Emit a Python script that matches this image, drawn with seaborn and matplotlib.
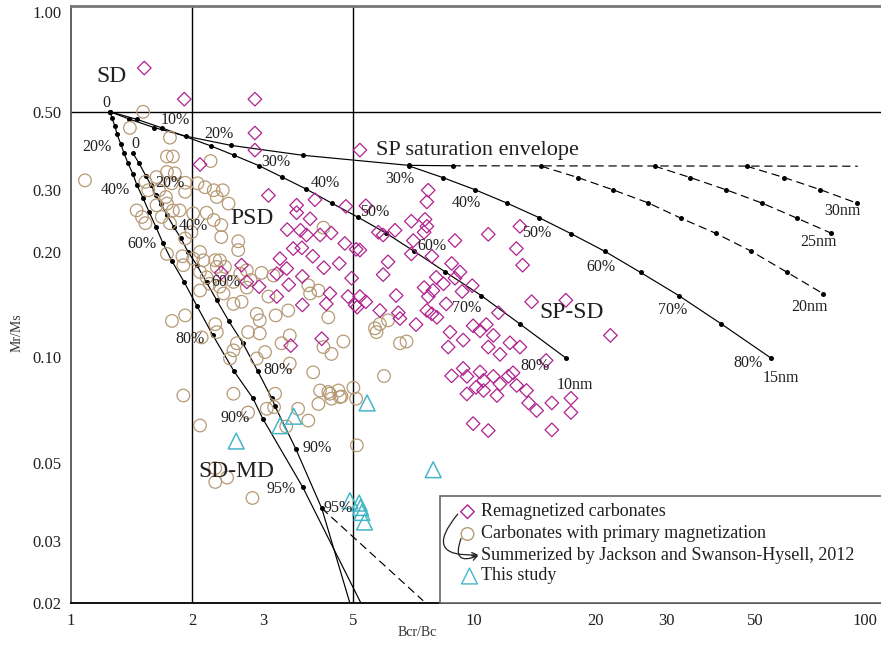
import numpy as np
import pandas as pd
import matplotlib
matplotlib.use("Agg")
import matplotlib.pyplot as plt
import seaborn as sns
from matplotlib.patches import FancyArrowPatch, Rectangle

# ---------------- data ----------------
# Remagnetized carbonates (Bcr/Bc, Mr/Ms)
rem_bcr = [1.52, 1.91, 2.86, 2.86, 2.86, 2.09, 3.09, 5.21, 3.63, 4.03, 4.81, 3.63, 3.92, 3.44,
           3.71, 3.84, 4.15, 4.42, 4.78, 3.56, 3.74, 3.98, 4.63, 5.10, 3.30, 2.65, 3.43, 3.24,
           3.75, 4.24, 4.97, 2.36, 2.73, 2.93, 3.24, 3.47, 3.75, 4.30, 4.87, 5.07, 4.19, 3.51,
           5.39, 5.21, 4.39, 5.21, 5.13, 5.39, 5.84, 6.41, 6.49, 6.55, 5.95, 6.12, 5.79, 5.95,
           6.37, 6.99, 7.56, 7.70, 7.64, 7.64, 7.52, 7.07, 6.99, 7.86, 8.97, 8.80, 9.23, 7.18,
           10.85, 13.0, 12.74, 13.2, 9.9, 7.52, 8.06, 8.4, 7.91, 7.7, 8.97, 9.34, 8.53, 7.64,
           7.86, 8.09, 8.72, 9.4, 8.63, 9.95, 10.35, 10.73, 11.17, 11.5, 10.85, 11.6, 12.28,
           13.0, 13.9, 16.9, 21.8, 15.1, 9.4, 8.8, 9.6, 10.35, 10.56, 11.17, 11.6, 12.17, 12.5,
           12.76, 10.12, 9.6, 10.56, 11.4, 13.5, 13.66, 14.3, 15.6, 17.4, 17.4, 15.6, 9.95, 10.85]
rem_mr = [0.666, 0.543, 0.543, 0.435, 0.389, 0.354, 0.289, 0.389, 0.271, 0.281, 0.269, 0.258,
          0.248, 0.231, 0.230, 0.223, 0.223, 0.226, 0.211, 0.204, 0.205, 0.194, 0.185, 0.203,
          0.191, 0.183, 0.179, 0.173, 0.170, 0.180, 0.168, 0.174, 0.164, 0.159, 0.149, 0.161,
          0.141, 0.142, 0.149, 0.141, 0.113, 0.108, 0.270, 0.202, 0.152, 0.149, 0.139, 0.144,
          0.136, 0.150, 0.134, 0.129, 0.172, 0.187, 0.227, 0.223, 0.230, 0.244, 0.247, 0.299,
          0.277, 0.236, 0.227, 0.215, 0.197, 0.194, 0.215, 0.185, 0.175, 0.124, 0.224, 0.236,
          0.204, 0.183, 0.160, 0.158, 0.169, 0.162, 0.155, 0.149, 0.168, 0.154, 0.142, 0.136,
          0.133, 0.130, 0.118, 0.112, 0.107, 0.123, 0.119, 0.124, 0.1155, 0.134, 0.107, 0.102,
          0.110, 0.107, 0.144, 0.1454, 0.1155, 0.098, 0.093, 0.0886, 0.0883, 0.0909, 0.086,
          0.0883, 0.0840, 0.0883, 0.0904, 0.0832, 0.0822, 0.0787, 0.0805, 0.0779, 0.0805,
          0.0742, 0.0706, 0.0742, 0.0765, 0.0697, 0.0622, 0.0648, 0.0619]

# Carbonates with primary magnetization
prim_bcr = [1.51, 1.40, 1.76, 2.22, 1.73, 1.79, 1.083, 1.73, 1.81, 1.53, 1.63, 1.92, 2.06, 2.15,
            2.26, 2.38, 1.455, 1.50, 1.53, 1.555, 1.655, 1.72, 1.78, 1.92, 2.46, 2.30, 2.17,
            2.26, 2.36, 2.36, 2.01, 1.99, 1.92, 1.76, 1.79, 1.86, 1.63, 1.73, 1.68, 2.60, 2.60,
            2.09, 2.28, 2.34, 2.41, 2.30, 2.13, 2.01, 1.89, 1.90, 2.09, 2.17, 2.09, 2.21, 2.34,
            2.53, 2.63, 2.73, 2.79, 2.97, 3.09, 3.18, 2.39, 2.53, 2.65, 2.73, 2.89, 2.94, 3.22,
            3.88, 3.92, 4.11, 4.23, 3.46, 4.35, 4.74, 1.92, 1.78, 1.73, 2.28, 2.30, 2.75, 2.58,
            2.53, 2.48, 2.94, 3.03, 2.89, 3.49, 3.33, 3.49, 3.99, 4.43, 2.11, 1.90, 2.53, 4.15,
            4.61, 5.02, 4.23, 5.68, 5.84, 6.12, 5.73, 6.55, 6.8, 5.98, 4.35, 4.65, 4.43, 5.10,
            3.66, 3.88, 5.12, 3.21, 2.09, 2.75, 3.06, 3.19, 3.42, 4.11, 4.39, 4.69, 2.28, 2.44,
            2.28, 2.82]
prim_mr = [0.500, 0.450, 0.422, 0.362, 0.373, 0.373, 0.319, 0.337, 0.334, 0.316, 0.326, 0.314,
           0.313, 0.305, 0.299, 0.299, 0.262, 0.251, 0.241, 0.299, 0.299, 0.286, 0.313, 0.296,
           0.274, 0.286, 0.258, 0.246, 0.238, 0.220, 0.257, 0.227, 0.218, 0.241, 0.262, 0.262,
           0.271, 0.274, 0.251, 0.214, 0.202, 0.1995, 0.189, 0.189, 0.181, 0.181, 0.189, 0.191,
           0.194, 0.183, 0.175, 0.169, 0.155, 0.162, 0.159, 0.164, 0.173, 0.177, 0.166, 0.174,
           0.149, 0.171, 0.152, 0.142, 0.144, 0.158, 0.133, 0.1275, 0.1317, 0.1604, 0.152, 0.155,
           0.234, 0.136, 0.130, 0.111, 0.1317, 0.127, 0.197, 0.1243, 0.118, 0.118, 0.1097,
           0.1047, 0.0993, 0.117, 0.1035, 0.0993, 0.1155, 0.1097, 0.096, 0.0907, 0.1023, 0.114,
           0.0779, 0.0788, 0.0805, 0.0805, 0.082, 0.107, 0.121, 0.1245, 0.1275, 0.118, 0.1097,
           0.111, 0.0885, 0.0797, 0.0771, 0.0763, 0.0763, 0.0714, 0.0661, 0.0562, 0.0788, 0.064,
           0.0697, 0.0714, 0.0722, 0.0636, 0.0737, 0.0788, 0.0774, 0.0484, 0.0455, 0.0442, 0.0398]

# This study
study_bcr = [2.57, 3.30, 3.57, 5.43, 7.92, 4.92, 5.19, 5.23, 5.27, 5.35]
study_mr = [0.0578, 0.0639, 0.0680, 0.0742, 0.0479, 0.0391, 0.0385, 0.0374, 0.0362, 0.0340]

# SD-MD mixing curves (Dunlop, 2002)
sdmd1_x = [1.25, 1.264, 1.286, 1.30, 1.33, 1.354, 1.385, 1.425, 1.458, 1.509, 1.561, 1.625,
           1.692, 1.78, 1.908, 2.054, 2.25, 2.54, 2.83, 2.99, 3.76, 5.24]
sdmd1_y = [0.50, 0.479, 0.455, 0.432, 0.404, 0.381, 0.357, 0.332, 0.309, 0.284, 0.260, 0.235,
           0.211, 0.188, 0.164, 0.140, 0.1155, 0.0912, 0.0764, 0.0670, 0.0427, 0.0200]
sdmd2_x = [1.425, 1.475, 1.535, 1.58, 1.625, 1.673, 1.73, 1.80, 1.875, 1.95, 2.054, 2.17, 2.30,
           2.465, 2.67, 2.91, 3.15, 3.21, 3.61, 4.19, 4.92]
sdmd2_y = [0.381, 0.357, 0.328, 0.309, 0.289, 0.273, 0.254, 0.235, 0.218, 0.200, 0.1829, 0.1634,
           0.1454, 0.1267, 0.1097, 0.0912, 0.0764, 0.0725, 0.0550, 0.0372, 0.0200]
md_tail_x = [4.19, 7.48]
md_tail_y = [0.0372, 0.0203]

# SP saturation envelope and SP-SD mixing curves
env_x = [1.25, 1.393, 1.606, 1.93, 2.50, 3.76, 6.88, 8.85]
env_y = [0.50, 0.477, 0.451, 0.426, 0.401, 0.376, 0.352, 0.351]
env_dash_x = [8.85, 89.6]
env_dash_y = [0.351, 0.350]
sp10_x = [1.25, 1.455, 1.68, 2.22, 2.54, 2.93, 3.34, 3.84, 4.43, 5.14, 6.04, 7.10, 8.49, 10.42,
          13.0, 16.9]
sp10_y = [0.50, 0.476, 0.450, 0.400, 0.376, 0.351, 0.326, 0.301, 0.275, 0.251, 0.226, 0.2005,
          0.175, 0.150, 0.1245, 0.0996]
sp15_x = [6.88, 8.36, 10.06, 12.06, 14.49, 17.4, 21.1, 25.9, 32.2, 41.1, 54.6]
sp15_y = [0.351, 0.325, 0.300, 0.275, 0.250, 0.225, 0.2005, 0.1745, 0.150, 0.1245, 0.0995]
sp20_x = [14.68, 18.1, 22.1, 27.1, 32.6, 39.8, 48.8, 59.9, 73.5]
sp20_y = [0.350, 0.325, 0.300, 0.275, 0.249, 0.2255, 0.2004, 0.1745, 0.1518]
sp25_x = [28.1, 34.4, 42.2, 51.8, 63.3, 77.1]
sp25_y = [0.350, 0.325, 0.300, 0.275, 0.249, 0.2255]
sp30_x = [47.5, 58.8, 72.4, 89.0]
sp30_y = [0.350, 0.325, 0.300, 0.275]

x_ticks = [1, 2, 3, 5, 10, 20, 30, 50, 100]
x_ticklabels = ["1", "2", "3", "5", "10", "20", "30", "50", "100"]
y_ticks = [0.02, 0.03, 0.05, 0.10, 0.20, 0.30, 0.50, 1.00]
y_ticklabels = ["0.02", "0.03", "0.05", "0.10", "0.20", "0.30", "0.50", "1.00"]

legend_labels = ["Remagnetized carbonates", "Carbonates with primary magnetization",
                 "Summerized by Jackson and Swanson-Hysell, 2012", "This study"]

# ---------------- style ----------------
sns.set_theme(style="white")
plt.rcParams["font.family"] = ["Liberation Serif", "DejaVu Serif"]

TXT = "#231f20"
C_REM = "#b0228f"
C_PRIM = "#b69a76"
C_STUDY = "#45b6c8"
S_REM, S_PRIM, S_STUDY = 48, 82, 130

W, H = 881, 648
fig = plt.figure(figsize=(W / 100, H / 100), dpi=100)
L, R, T, B = 71, 881, 6, 603
ax = fig.add_axes([L / W, 1 - B / H, (R - L) / W, (B - T) / H])
ax.set_xscale("log")
ax.set_yscale("log")
ax.set_xlim(1, 10 ** ((R - L) / 403.0))
ax.set_ylim(0.02, 1.0)


def P(px, py):
    """pixel position -> axes fraction (for annotations only)"""
    return ((px - L) / (R - L), (B - py) / (B - T))


# reference lines
ax.axhline(0.5, color="black", lw=1.0, zorder=1)
for xv in (2, 5):
    ax.axvline(xv, color="black", lw=1.0, zorder=1)


def curve(xs, ys, ls="-", dots=True, skip_last=False):
    n = len(xs)
    kw = dict(x=xs, y=ys, sort=False, estimator=None, color="black", lw=0.85,
              linestyle=ls, ax=ax, zorder=3, legend=False)
    if dots:
        kw.update(marker="o", markersize=3.6, mec="black", mfc="black", mew=0)
        if skip_last:
            kw["markevery"] = list(range(n - 1))
    sns.lineplot(**kw)


DASH = (0, (7, 4))
curve(sdmd1_x, sdmd1_y, skip_last=True)
curve(sdmd2_x, sdmd2_y, skip_last=True)
curve(md_tail_x, md_tail_y, ls=DASH, dots=False)
curve(env_x, env_y)
curve(env_dash_x, env_dash_y, ls=DASH, dots=False)
curve(sp10_x, sp10_y)
curve(sp15_x, sp15_y)
curve(sp20_x, sp20_y, ls=DASH)
curve(sp25_x, sp25_y, ls=DASH)
curve(sp30_x, sp30_y, ls=DASH)

# scatter
prim = pd.DataFrame({"bcr": prim_bcr, "mr": prim_mr})
rem = pd.DataFrame({"bcr": rem_bcr, "mr": rem_mr})
study = pd.DataFrame({"bcr": study_bcr, "mr": study_mr})
sns.scatterplot(data=prim, x="bcr", y="mr", marker="o", s=S_PRIM, facecolors="none",
                edgecolor=C_PRIM, linewidth=0.9, ax=ax, zorder=4, legend=False)
sns.scatterplot(data=rem, x="bcr", y="mr", marker="D", s=S_REM, facecolors="none",
                edgecolor=C_REM, linewidth=0.9, ax=ax, zorder=5, legend=False)
sns.scatterplot(data=study, x="bcr", y="mr", marker="^", s=S_STUDY, facecolors="none",
                edgecolor=C_STUDY, linewidth=1.1, ax=ax, zorder=6, legend=False)

# axes styling
ax.set_xticks(x_ticks)
ax.set_xticklabels(x_ticklabels)
ax.set_yticks(y_ticks)
ax.set_yticklabels(y_ticklabels)
ax.minorticks_off()
ax.tick_params(axis="both", direction="in", length=7, width=1.0, colors="#333333",
               labelsize=12, labelcolor=TXT)
ax.tick_params(axis="y", pad=7)
ax.tick_params(axis="x", pad=7)
ax.get_xticklabels()[-1].set_horizontalalignment("right")
ax.get_yticklabels()[-1].set_verticalalignment("top")
ax.set_xlabel("")
ax.set_ylabel("")
ax.spines["right"].set_visible(False)
ax.spines["top"].set_color("#777777")
ax.spines["top"].set_linewidth(2.0)
ax.spines["left"].set_color("#555555")
ax.spines["left"].set_linewidth(1.3)
ax.spines["bottom"].set_color("black")
ax.spines["bottom"].set_linewidth(1.3)

fig.text(17 / W, 1 - 333 / H, "Mr/Ms", rotation=90, ha="center", va="center",
         fontsize=10, color="#333333")
fig.text(417 / W, 1 - 633 / H, "Bcr/Bc", ha="center", va="center",
         fontsize=10, color="#333333")


def lab(px, py, s, size=11, ha="center"):
    ax.text(*P(px, py), s, transform=ax.transAxes, ha=ha, va="center",
            fontsize=size, color=TXT, zorder=7)


lab(111.7, 76, "SD", 17)
lab(251.7, 218.3, "PSD", 17)
lab(571.7, 312.7, "SP-SD", 17)
lab(236, 471.7, "SD-MD", 17)
lab(376, 150, "SP saturation envelope", 16, ha="left")

pct = [(106.7, 102.7, "0"), (135.7, 144, "0"),
       (97.3, 147.3, "20%"), (115, 190, "40%"), (141.7, 244.3, "60%"), (190, 339, "80%"),
       (235, 418.3, "90%"), (280.7, 489.3, "95%"),
       (170, 183.3, "20%"), (193.3, 226, "40%"), (225.7, 281.7, "60%"), (278.3, 370, "80%"),
       (316.7, 448.3, "90%"), (338.3, 508.3, "95%"),
       (175, 120, "10%"), (219.3, 134, "20%"), (276, 161.7, "30%"), (325, 183.3, "40%"),
       (375, 211.7, "50%"), (431.7, 246, "60%"), (466.7, 308.3, "70%"), (535, 366, "80%"),
       (575, 385, "10nm"),
       (400, 179.3, "30%"), (466, 203.3, "40%"), (536.7, 233.3, "50%"), (600.7, 267.3, "60%"),
       (672.7, 310, "70%"), (748.3, 362.7, "80%"), (781, 378, "15nm"),
       (810, 306.7, "20nm"), (818.3, 242.3, "25nm"), (842.3, 211, "30nm")]
for px, py, s in pct:
    lab(px, py, s, 11.5)

# legend (custom box)
box_x, box_y = P(439.5, 496)
ax.add_patch(Rectangle((box_x, 0), 1.2 - box_x, box_y, transform=ax.transAxes,
                       facecolor="white", edgecolor="#666666", lw=1.2, zorder=8,
                       clip_on=False))
leg_rows = [(511.7, "D", C_REM, S_REM, legend_labels[0]),
            (534, "o", C_PRIM, S_PRIM, legend_labels[1]),
            (555.5, None, None, 0, legend_labels[2]),
            (576, "^", C_STUDY, S_STUDY, legend_labels[3])]
for py, mk, col, sz, txt in leg_rows:
    if mk is not None:
        mx = 467.5 if mk != "^" else 469.5
        ax.scatter(*P(mx, py), transform=ax.transAxes, marker=mk, s=sz,
                   facecolors="none", edgecolors=col, linewidths=1.0, zorder=9,
                   clip_on=False)
    ax.text(*P(481.5, py), txt, transform=ax.transAxes, ha="left", va="center",
            fontsize=13, color=TXT, zorder=9)


def F(px, py):
    return (px / W, 1 - py / H)


for start, rad in ((F(459.5, 512), 1.2), (F(462, 536), 1.2)):
    arr = FancyArrowPatch(posA=start, posB=F(481, 554.5), transform=fig.transFigure,
                          connectionstyle=f"arc3,rad={rad}", arrowstyle="->",
                          mutation_scale=9, lw=0.9, color="#222222", zorder=10)
    fig.patches.append(arr)

fig.savefig("out.png", dpi=100)
